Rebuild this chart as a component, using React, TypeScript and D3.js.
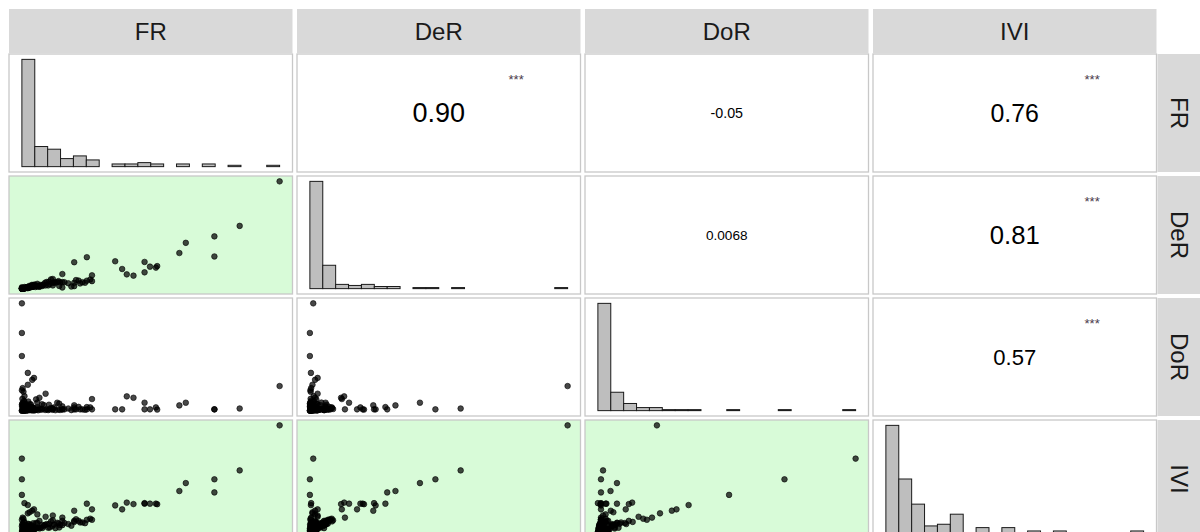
import React from 'react';
import * as d3 from 'd3';

// Variables (normalized 0–100 scale; the reference shows no axes)
const VARIABLES = ['FR', 'DeR', 'DoR', 'IVI'];

const FR = [100, 84.5, 74.7, 74.7, 63.6, 61.1, 52.0, 52.5, 49.7, 47.6, 47.6, 43.3, 40.7, 38.9, 36.2, 27.2, 27.2, 26.5, 25.2, 25.2, 22.6, 20.3, 20.3, 20.3, 15.7, 15.7, 15.7,
  0, 0, 0, 2.3, 4.7, 4.0, 2.3, 9.2, 6.8, 1.0, 6.0, 12.0, 3.0, 0.3, 0.6, 1.0, 0.0, 0.2, 5.5,
  0.0, 0.2, 0.4, 0.6, 0.8, 1.0, 1.2, 1.4, 1.6, 1.8, 2.0, 2.2, 2.4, 2.6, 2.8, 3.0, 3.2, 3.4, 3.6, 3.8, 4.0, 4.2, 4.4, 4.6, 4.8,
  0.1, 0.3, 0.5, 0.7, 0.9, 1.1, 1.3, 1.5, 1.7, 1.9, 2.1, 2.3, 2.5, 2.7, 2.9, 3.1, 3.3, 3.5, 3.7, 3.9, 4.1, 4.3, 4.5, 4.7, 4.9, 0.0, 0.5, 0.2, 1.0,
  0.0, 0.3, 0.8, 1.5, 2.5, 3.5, 0.6, 1.8, 2.8, 3.9, 4.4, 4.9,
  5.2, 5.8, 6.3, 6.9, 7.4, 8.0, 8.5, 9.0, 9.6, 7.8, 6.0,
  10.2, 10.8, 11.3, 11.9, 12.5, 13.0, 13.7, 14.2, 14.8, 10.5, 12.0, 14.5,
  16.5, 18.0, 19.2, 21.0, 22.0, 23.5, 24.5];

const DeR = [100, 58.5, 48.7, 30.0, 42.7, 33.2, 19.6, 21.0, 20.5, 24.9, 15.2, 12.1, 13.3, 18.3, 25.5, 12.4, 7.0, 8.5, 29.3, 7.4, 4.9, 24.6, 5.5, 2.3, 13.6, 6.1, 1.1,
  1.3, 0, 0, 0.4, 3.0, 2.0, 1.0, 3.0, 2.0, 0.5, 2.0, 3.0, 1.0, 0.5, 0.3, 1.5, 0.2, 0.3, 2.5,
  0.0, 0.1, 0.2, 0.3, 0.1, 0.5, 0.4, 0.6, 0.8, 0.7, 1.0, 0.9, 1.1, 1.3, 1.2, 1.5, 1.4, 1.7, 1.9, 1.6, 2.0, 2.2, 2.1, 2.5, 2.8,
  0.0, 0.1, 0.2, 0.2, 0.3, 0.6, 0.5, 0.7, 0.9, 1.1, 0.8, 1.2, 1.4, 1.6, 1.3, 1.8, 2.0, 1.5, 2.3, 2.6, 1.9, 2.4, 2.9, 2.2, 3.0, 0.0, 0.1, 0.0, 0.3,
  0.2, 0.1, 0.4, 0.8, 1.5, 2.0, 0.3, 1.0, 2.5, 3.5, 3.2, 3.8,
  1.5, 2.2, 2.8, 1.8, 3.5, 2.5, 4.0, 5.5, 6.2, 3.0, 4.5,
  3.0, 4.2, 8.6, 5.2, 6.0, 5.5, 6.1, 7.0, 5.8, 6.5, 9.0, 2.5,
  6.0, 5.0, 2.0, 8.0, 7.5, 6.0, 5.5];

const DoR = [22.9, 2.0, 1.2, 1.2, 7.4, 4.9, 3.0, 1.0, 1.2, 1.2, 7.4, 12.0, 13.3, 1.2, 1.2, 10.8, 1.2, 3.0, 3.3, 1.2, 1.2, 5.0, 1.2, 3.0, 1.2, 4.0, 1.2,
  100, 72.4, 50.9, 35.2, 30.5, 28.7, 24.1, 15.8, 12.0, 0.0, 3.0, 2.0, 6.0, 21.0, 17.6, 13.5, 19.0, 11.0, 10.5,
  0.0, 0.5, 1.0, 0.2, 1.5, 0.8, 0.3, 2.0, 1.1, 0.6, 2.5, 0.4, 1.8, 0.9, 3.0, 0.5, 2.2, 1.2, 0.7, 3.5, 1.4, 0.2, 2.6, 1.0, 0.5,
  4.0, 3.2, 2.8, 4.5, 3.8, 0.1, 1.6, 2.4, 0.0, 4.2, 1.3, 0.3, 3.4, 0.6, 1.9, 0.8, 2.7, 0.4, 1.7, 0.9, 3.1, 0.6, 1.5, 2.1, 0.3, 0.0, 0.1, 6.5, 8.0,
  5.5, 7.0, 9.0, 6.2, 8.5, 5.8, 2.5, 1.0, 3.5, 0.8, 2.0, 1.2,
  0.5, 1.0, 0.3, 2.0, 0.8, 1.5, 5.2, 0.6, 1.2, 6.0, 7.5,
  0.5, 1.2, 2.5, 0.8, 3.0, 0.4, 7.4, 1.0, 0.6, 5.5, 1.5, 6.5,
  1.2, 2.0, 0.5, 1.2, 3.5, 1.2, 0.8];

const IVI = [100, 58, 49.7, 37.5, 46.2, 38.8, 27.0, 26.5, 27.0, 27.5, 27.0, 26.6, 28.0, 21.7, 25.4, 21.7, 12.0, 13.0, 27.0, 12.0, 9.5, 20.4, 11.0, 10.0, 14.0, 11.0, 7.0,
  69, 49.7, 35.2, 25.7, 21.7, 20.5, 18.0, 14.8, 11.0, 27.5, 17.0, 16.0, 19.0, 14.0, 13.0, 10.0, 12.0, 8.0, 9.0,
  0.0, 0.3, 0.6, 0.4, 1.0, 0.9, 0.7, 1.5, 1.3, 1.1, 2.0, 1.4, 1.9, 1.7, 2.6, 1.8, 2.5, 2.3, 2.4, 3.2, 2.8, 2.7, 3.4, 3.1, 3.3,
  2.2, 1.9, 1.6, 2.9, 2.6, 0.5, 1.2, 1.8, 0.8, 3.0, 1.6, 1.2, 2.9, 1.6, 2.2, 2.1, 3.0, 2.0, 2.9, 3.0, 3.6, 3.0, 3.8, 3.7, 3.5, 0.1, 0.2, 3.9, 4.6,
  6.0, 7.5, 9.5, 6.8, 8.2, 7.0, 5.5, 6.2, 7.8, 6.5, 8.8, 5.2,
  3.5, 4.2, 4.6, 3.9, 4.8, 4.4, 6.5, 7.2, 8.0, 7.4, 9.0,
  4.5, 4.8, 10.5, 6.2, 7.5, 4.2, 9.2, 8.5, 7.0, 8.0, 11.5, 4.9,
  9.0, 8.0, 6.5, 12.5, 11.0, 9.5, 8.8];

const SERIES = [FR, DeR, DoR, IVI];

// Correlations shown in the upper panels (row var, col var)
const COR_PAIRS = [[0, 1], [0, 2], [0, 3], [1, 2], [1, 3], [2, 3]];
const COR_VALUES = [0.90, -0.05, 0.76, 0.0068, 0.81, 0.57];
const COR_LABELS = ['0.90', '-0.05', '0.76', '0.0068', '0.81', '0.57'];
const COR_STARS = ['***', '', '***', '', '***', '***'];

const N_BINS = 20;

// layout
const W = 1200;
const H = 532;
const LEFT = 9;
const TOP_STRIP_Y = 9;
const STRIP_H = 44;
const PANEL_TOP = 54;
const COL_STEP = 288;
const ROW_STEP = 122;
const PANEL_W = 283.5;
const PANEL_H = 118;
const FONT = "'Liberation Sans', Arial, Helvetica, sans-serif";
const GREEN = '#d8fbd8';

function panelX(c: number) { return LEFT + c * COL_STEP; }
function panelY(r: number) { return PANEL_TOP + r * ROW_STEP; }

function xScale(c: number) {
  const v = SERIES[c];
  const pad = PANEL_W * 0.05 / 1.1;
  return d3.scaleLinear().domain(d3.extent(v) as [number, number])
    .range([panelX(c) + pad, panelX(c) + PANEL_W - pad]);
}
function yScaleFor(r: number, domain: [number, number]) {
  const pad = PANEL_H * 0.05 / 1.1;
  return d3.scaleLinear().domain(domain)
    .range([panelY(r) + PANEL_H - pad, panelY(r) + pad]);
}

function sigKey(a: number, b: number) {
  return COR_PAIRS.findIndex(p => (p[0] === a && p[1] === b) || (p[0] === b && p[1] === a));
}

export default function App() {
  const panels: React.ReactNode[] = [];

  for (let r = 0; r < 4; r++) {
    for (let c = 0; c < 4; c++) {
      const x = panelX(c), y = panelY(r);
      const key = `${r}-${c}`;
      if (r === c) {
        const vals = SERIES[c];
        const [mn, mx] = d3.extent(vals) as [number, number];
        const thresholds = d3.range(1, N_BINS).map(k => mn + k * (mx - mn) / N_BINS);
        const bins = d3.bin().domain([mn, mx]).thresholds(thresholds)(vals);
        const xs = xScale(c);
        const ys = yScaleFor(r, [0, d3.max(bins, b => b.length) as number]);
        panels.push(
          <g key={key}>
            <rect x={x} y={y} width={PANEL_W} height={PANEL_H} fill="#ffffff" stroke="#c8c8c8" strokeWidth={1.3} />
            {bins.filter(b => b.length > 0).map((b, i) => (
              <rect key={i} x={xs(b.x0 as number)} y={ys(b.length)}
                width={xs(b.x1 as number) - xs(b.x0 as number)} height={ys(0) - ys(b.length)}
                fill="#bebebe" stroke="#1a1a1a" strokeWidth={1} />
            ))}
          </g>
        );
      } else if (r > c) {
        const idx = sigKey(r, c);
        const sig = COR_STARS[idx] !== '';
        const xs = xScale(c);
        const yv = SERIES[r];
        const ys = yScaleFor(r, d3.extent(yv) as [number, number]);
        const xv = SERIES[c];
        panels.push(
          <g key={key}>
            <rect x={x} y={y} width={PANEL_W} height={PANEL_H} fill={sig ? GREEN : '#ffffff'} stroke="#c8c8c8" strokeWidth={1.3} />
            {xv.map((v, i) => (
              <circle key={i} cx={xs(v)} cy={ys(yv[i])} r={2.8}
                fill="#000000" fillOpacity={0.72} stroke="#000000" strokeOpacity={0.85} strokeWidth={0.7} />
            ))}
          </g>
        );
      } else {
        const idx = sigKey(r, c);
        const size = 13.5 + 15 * Math.abs(COR_VALUES[idx]);
        panels.push(
          <g key={key}>
            <rect x={x} y={y} width={PANEL_W} height={PANEL_H} fill="#ffffff" stroke="#c8c8c8" strokeWidth={1.3} />
            <text x={x + PANEL_W / 2} y={y + PANEL_H / 2} textAnchor="middle" dominantBaseline="central"
              fontFamily={FONT} fontSize={size} fill="#000">{COR_LABELS[idx]}</text>
            {COR_STARS[idx] && (
              <text x={x + PANEL_W * 0.773} y={y + 25} textAnchor="middle" dominantBaseline="central"
                fontFamily={FONT} fontSize={13} fill="#4a3a4a">{COR_STARS[idx]}</text>
            )}
          </g>
        );
      }
    }
  }

  return (
    <svg width={W} height={H} style={{ position: 'absolute', left: 0, top: 0, background: '#fff' }}>
      {VARIABLES.map((v, c) => (
        <g key={'ts' + v}>
          <rect x={panelX(c)} y={TOP_STRIP_Y} width={PANEL_W} height={STRIP_H} fill="#d9d9d9" />
          <text x={panelX(c) + PANEL_W / 2} y={TOP_STRIP_Y + STRIP_H / 2} textAnchor="middle" dominantBaseline="central"
            fontFamily={FONT} fontSize={24} fill="#1a1a1a">{v}</text>
        </g>
      ))}
      {VARIABLES.map((v, r) => {
        const sx = panelX(3) + PANEL_W + 1;
        const cy = panelY(r) + PANEL_H / 2;
        return (
          <g key={'rs' + v}>
            <rect x={sx} y={panelY(r)} width={STRIP_H} height={PANEL_H} fill="#d9d9d9" />
            <text x={sx + STRIP_H / 2} y={cy} textAnchor="middle" dominantBaseline="central"
              transform={`rotate(90 ${sx + STRIP_H / 2} ${cy})`}
              fontFamily={FONT} fontSize={24} fill="#1a1a1a">{v}</text>
          </g>
        );
      })}
      {panels}
    </svg>
  );
}
